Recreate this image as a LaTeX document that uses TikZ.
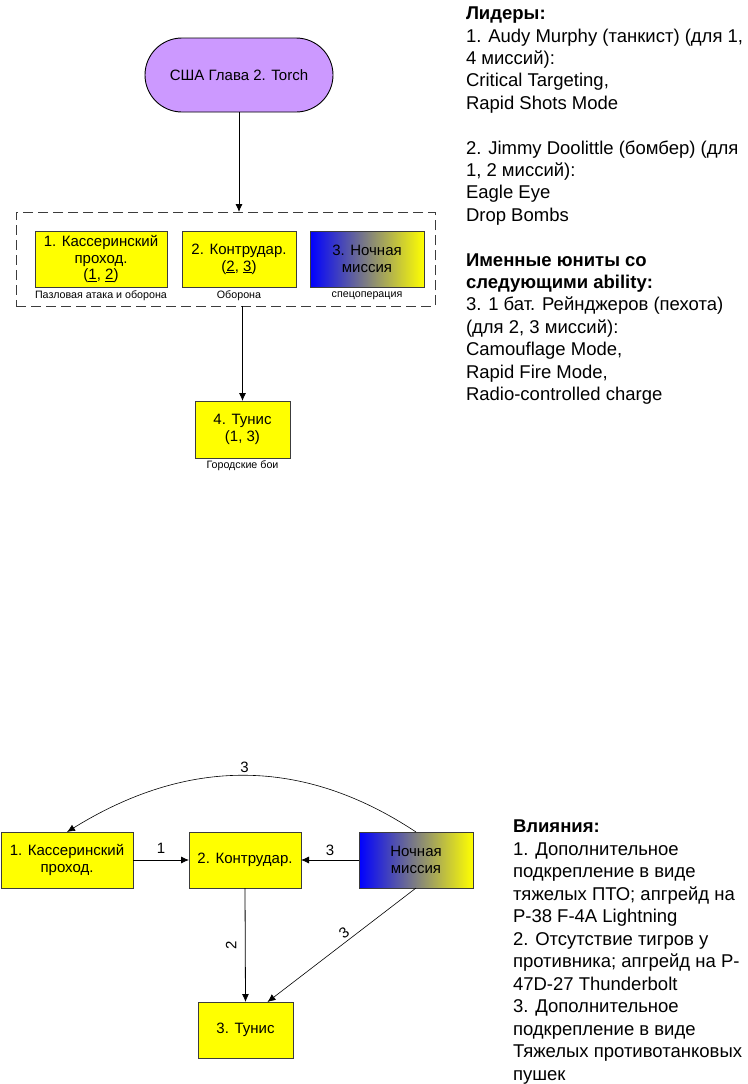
\documentclass[tikz,border=0pt]{standalone}
\usepackage{fontspec}
\setmainfont{Liberation Sans}
\usetikzlibrary{arrows.meta,shapes.misc}
\definecolor{boxyellow}{RGB}{255,255,0}
\definecolor{lilac}{RGB}{204,153,255}
\definecolor{edge}{RGB}{60,60,60}
\begin{document}
\begin{tikzpicture}[x=1pt,y=-1pt,
  every node/.style={inner sep=0pt, outer sep=0pt},
  box/.style={draw=edge, line width=0.9pt, fill=boxyellow, minimum height=56pt, align=center,
    font=\fontsize{15}{16.7}\selectfont},
  gradbox/.style={box, fill=none, left color=blue, right color=yellow},
  lbl/.style={font=\fontsize{10.7}{12}\selectfont},
  elbl/.style={font=\fontsize{15}{17}\selectfont},
  conn/.style={draw=black, line width=0.8pt, -{Latex[length=8pt,width=7pt]}},
  info/.style={anchor=north west, align=left, font=\fontsize{18.5}{22.4}\selectfont}
]
\useasboundingbox (0,0) rectangle (747,1084);
\fill[white] (0,0) rectangle (747,1084);

% ---------- top diagram ----------
\node[draw=black, line width=0.9pt, fill=lilac, rounded rectangle, minimum width=188pt, minimum height=74pt,
      font=\fontsize{15}{17}\selectfont] (top) at (239,75) {США Глава 2. Torch};

\node[draw=edge, line width=0.9pt, dash pattern=on 10pt off 5pt, minimum width=419pt, minimum height=94pt] (grp) at (225.5,259) {};

\node[box, minimum width=132pt] (b1) at (101,259) {1. Кассеринский\\проход.\\(\underline{1}, \underline{2})};
\node[box, minimum width=114pt] (b2) at (239,259) {2. Контрудар.\\(\underline{2}, \underline{3})};
\node[gradbox, minimum width=114pt] (b3) at (367,259) {3. Ночная\\миссия};
\node[box, minimum width=95pt, minimum height=57pt] (b4) at (242.5,429.5) {4. Тунис\\(1, 3)};

\node[lbl, anchor=north] (l1) at ([yshift=-4pt]b1.south) {Пазловая атака и оборона};
\node[lbl, anchor=north] (l2) at ([yshift=-4pt]b2.south) {Оборона};
\node[lbl, anchor=north] (l3) at ([yshift=-5pt]b3.south) {спецоперация};
\node[lbl, anchor=north] (l4) at ([yshift=-3pt]b4.south) {Городские бои};

\draw[conn] (top.south) -- (top.south |- grp.north);
\draw[conn] (b4.north |- grp.south) -- (b4.north);

% ---------- top-right text ----------
\node[info] (leaders) at (466,7) {\textbf{Лидеры:}\\
1. Audy Murphy (танкист) (для 1,\\
4 миссий):\\
Critical Targeting,\\
Rapid Shots Mode\\[22.4pt]
2. Jimmy Doolittle (бомбер) (для\\
1, 2 миссий):\\
Eagle Eye\\
Drop Bombs\\[22.4pt]
\textbf{Именные юниты со}\\
\textbf{следующими ability:}\\
3. 1 бат. Рейнджеров (пехота)\\
(для 2, 3 миссий):\\
Camouflage Mode,\\
Rapid Fire Mode,\\
Radio-controlled charge};

% ---------- bottom diagram ----------
\node[box, minimum width=132pt] (A) at (67,860) {1. Кассеринский\\проход.};
\node[box, minimum width=112pt] (B) at (245,860) {2. Контрудар.};
\node[gradbox, minimum width=114pt] (C) at (416,860) {Ночная\\миссия};
\node[box, minimum width=95pt] (D) at (245.5,1030) {3. Тунис};

\draw[conn] (A.east) -- node[elbl, above=7pt] (e1) {1} (B.west);
\draw[conn] (C.west) -- node[elbl, above=4pt] (e2) {3} (B.east);
\draw[conn] (B.south) -- node[elbl, rotate=90, above=9pt] (e3) {2} (D.north);
\draw[conn, line width=0.6pt] (C.south) -- node[elbl, sloped, above=3pt, pos=0.45] (e4) {3} ([xshift=22pt]D.north);
\draw[conn, line width=0.6pt] (C.north) .. controls (303,757) and (188,757) .. node[elbl, above=3pt] (e5) {3} (A.north);

% ---------- bottom-right text ----------
\node[info, font=\fontsize{18.5}{22.5}\selectfont] (infl) at (513,820) {\textbf{Влияния:}\\
1. Дополнительное\\
подкрепление в виде\\
тяжелых ПТО; апгрейд на\\
P-38 F-4A Lightning\\
2. Отсутствие тигров у\\
противника; апгрейд на P-\\
47D-27 Thunderbolt\\
3. Дополнительное\\
подкрепление в виде\\
Тяжелых противотанковых\\
пушек};
\end{tikzpicture}
\end{document}
